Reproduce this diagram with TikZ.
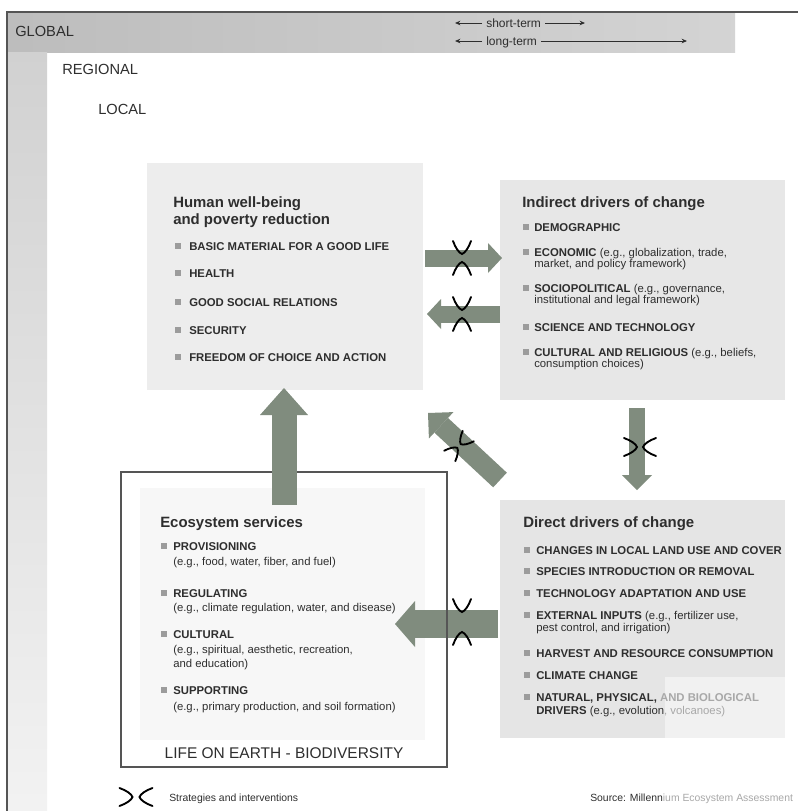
\documentclass[tikz,border=0pt]{standalone}
\usepackage{fontspec}
\setmainfont{Liberation Sans}
\usetikzlibrary{arrows.meta}
\definecolor{txt}{HTML}{2E2E2E}
\definecolor{bul}{HTML}{9C9C9C}
\definecolor{arr}{RGB}{128,140,126}
\definecolor{boxA}{HTML}{EDEDED}
\definecolor{boxB}{HTML}{E7E7E7}
\definecolor{boxC}{HTML}{E5E5E5}
\definecolor{boxCl}{HTML}{F1F1F1}
\definecolor{frameC}{HTML}{555555}
\definecolor{faint}{HTML}{A8A8A8}
\tikzset{
 ttl/.style={anchor=west, inner sep=0pt, text=txt, font=\fontsize{11.2}{13}\selectfont\bfseries, text height=0.72em, text depth=0pt},
 itm/.style={anchor=west, inner sep=0pt, text=txt, font=\fontsize{8.5}{10}\selectfont, text height=0.72em, text depth=0pt},
 hdr/.style={anchor=west, inner sep=0pt, text=txt, font=\fontsize{11}{13}\selectfont, text height=0.72em, text depth=0pt},
 smalltxt/.style={anchor=west, inner sep=0pt, text=txt, font=\fontsize{9}{10}\selectfont, text height=0.72em, text depth=0pt},
 legtxt/.style={anchor=west, inner sep=0pt, text=txt, font=\fontsize{7.8}{9}\selectfont, text height=0.72em, text depth=0pt},
 bullet/.style={fill=bul, minimum size=3.9pt, inner sep=0pt},
 markpen/.style={draw=black, line width=1.4pt, line cap=round},
 thinarr/.style={draw=txt, line width=0.7pt, -{Stealth[length=4pt,width=3.4pt]}},
 blk/.style n args={3}{draw=arr, line width=#1, -{Triangle[width=#2,length=#3,line width=0pt 0]}},
 pics/strat/.style={code={
   \draw[markpen] ({-#1-13},-9) .. controls ({-#1-6},-6.5) and ({-#1-1},-3) .. (-#1,0) .. controls ({-#1-1},3) and ({-#1-6},6.5) .. ({-#1-13},9);
   \draw[markpen] ({#1+13},-9) .. controls ({#1+6},-6.5) and ({#1+1},-3) .. (#1,0) .. controls ({#1+1},3) and ({#1+6},6.5) .. ({#1+13},9);
 }},
 pics/strat/.default=4
}
\newcommand\bitem[5]{\node[bullet] (#1b) at (#2,#4) {}; \node[itm] (#1) at (#3,#4) {#5};}
\begin{document}
\begin{tikzpicture}[x=0.75pt,y=-0.75pt]
\useasboundingbox (0,0) rectangle (798,811);
\fill[white] (0,0) rectangle (798,811);
% scale bands
\shade[left color=black!26, right color=black!17] (7,13) rectangle (735,52);
\shade[top color=black!18, bottom color=black!5] (7,52) rectangle (47,811);
\draw[frameC, line width=1.3pt] (798,12) -- (7,12) -- (7,811);
\node[hdr] (glob) at (15,32) {GLOBAL};
\node[hdr] (reg) at (62,70) {REGIONAL};
\node[hdr] (loc) at (98,110) {LOCAL};
\node[smalltxt, inner xsep=3pt] (st) at (482,23) {short-term};
\node[smalltxt, inner xsep=3pt] (lt) at (482,41) {long-term};
\coordinate (stL) at (455,23); \coordinate (stR) at (585,23);
\coordinate (ltL) at (455,41); \coordinate (ltR) at (687,41);
\draw[thinarr] (st.west) -- (stL);
\draw[thinarr] (st.east) -- (stR);
\draw[thinarr] (lt.west) -- (ltL);
\draw[thinarr] (lt.east) -- (ltR);
% boxes
\fill[boxA] (147,163) rectangle (423,390);
\fill[boxB] (500,180) rectangle (785,400);
\fill[boxC] (500,500) rectangle (785,738);
\fill[boxCl] (665,677) rectangle (785,738);
\fill[black!3] (140,488) rectangle (425,740);
% human well-being
\node[ttl] (ht1) at (173,203) {Human well-being};
\node[ttl] (ht2) at (173,220) {and poverty reduction};
\bitem{h1}{178}{189}{246}{\textbf{BASIC MATERIAL FOR A GOOD LIFE}}
\bitem{h2}{178}{189}{273}{\textbf{HEALTH}}
\bitem{h3}{178}{189}{302}{\textbf{GOOD SOCIAL RELATIONS}}
\bitem{h4}{178}{189}{330}{\textbf{SECURITY}}
\bitem{h5}{178}{189}{357}{\textbf{FREEDOM OF CHOICE AND ACTION}}
% indirect drivers
\node[ttl] (it) at (522,203) {Indirect drivers of change};
\bitem{i1}{526}{534}{227}{\textbf{DEMOGRAPHIC}}
\bitem{i2}{526}{534}{252}{\textbf{ECONOMIC} (e.g., globalization, trade,}
\node[itm] (i2c) at (534,263) {market, and policy framework)};
\bitem{i3}{526}{534}{288}{\textbf{SOCIOPOLITICAL} (e.g., governance,}
\node[itm] (i3c) at (534,299) {institutional and legal framework)};
\bitem{i4}{526}{534}{327}{\textbf{SCIENCE AND TECHNOLOGY}}
\bitem{i5}{526}{534}{352}{\textbf{CULTURAL AND RELIGIOUS} (e.g., beliefs,}
\node[itm] (i5c) at (534,363) {consumption choices)};
% direct drivers
\node[ttl] (dt) at (523,523) {Direct drivers of change};
\bitem{d1}{527}{536}{550}{\textbf{CHANGES IN LOCAL LAND USE AND COVER}}
\bitem{d2}{527}{536}{571}{\textbf{SPECIES INTRODUCTION OR REMOVAL}}
\bitem{d3}{527}{536}{593}{\textbf{TECHNOLOGY ADAPTATION AND USE}}
\bitem{d4}{527}{536}{615}{\textbf{EXTERNAL INPUTS} (e.g., fertilizer use,}
\node[itm] (d4c) at (536,627) {pest control, and irrigation)};
\bitem{d5}{527}{536}{653}{\textbf{HARVEST AND RESOURCE CONSUMPTION}}
\bitem{d6}{527}{536}{675}{\textbf{CLIMATE CHANGE}}
\bitem{d7}{527}{536}{697}{\textbf{NATURAL, PHYSICAL, \textcolor{faint}{AND BIOLOGICAL}}}
\node[itm] (d7c) at (536,710) {\textbf{DRIVERS} (e.g., evolution\textcolor{faint}{, volcanoes)}};
% ecosystem services
\node[ttl] (et) at (160,523) {Ecosystem services};
\bitem{e1}{164}{173}{546}{\textbf{PROVISIONING}}
\node[itm] (e1c) at (173,561) {(e.g., food, water, fiber, and fuel)};
\bitem{e2}{164}{173}{593}{\textbf{REGULATING}}
\node[itm] (e2c) at (173,607) {(e.g., climate regulation, water, and disease)};
\bitem{e3}{164}{173}{634}{\textbf{CULTURAL}}
\node[itm] (e3c) at (173,649) {(e.g., spiritual, aesthetic, recreation,};
\node[itm] (e3d) at (173,663) {and education)};
\bitem{e4}{164}{173}{690}{\textbf{SUPPORTING}}
\node[itm] (e4c) at (173,706) {(e.g., primary production, and soil formation)};
\node[text=txt, inner sep=0pt, font=\fontsize{11.6}{13}\selectfont] (life) at (284,753) {LIFE ON EARTH - BIODIVERSITY};
% arrow end points
\coordinate (a1s) at (425,258); \coordinate (a1e) at (502,258);
\coordinate (a2s) at (500,314); \coordinate (a2e) at (427,314);
\coordinate (a3s) at (637,408); \coordinate (a3e) at (637,490);
\coordinate (a4s) at (500,480); \coordinate (a4e) at (428,413);
\coordinate (a5s) at (284,505); \coordinate (a5e) at (284,388);
\coordinate (a6s) at (498,624); \coordinate (a6e) at (395,624);
\draw[blk={12.75pt}{22.5pt}{10.5pt}] (a1s) -- (a1e);
\draw[blk={12.75pt}{22.5pt}{10.5pt}] (a2s) -- (a2e);
\draw[blk={12pt}{22.5pt}{11.25pt}] (a3s) -- (a3e);
\draw[blk={15pt}{27pt}{13.5pt}] (a4s) -- (a4e);
\draw[blk={21pt}{34.5pt}{15pt}] (a6s) -- (a6e);
% ecosystem box frame
\draw[frameC, line width=1.5pt] (121,472) rectangle (447,767);
\draw[blk={18.75pt}{36pt}{20.25pt}] (a5s) -- (a5e);
% strategies and interventions marks
\pic[rotate=90] at (462,258) {strat=4};
\pic[rotate=90] at (462,314) {strat=4};
\pic at (640,447) {strat=3};
\pic[rotate=47, scale=0.85] at (459,446) {strat=3};
\pic[rotate=90] at (462,622) {strat=10};
% legend and source
\pic at (136,797) {strat=3.5};
\node[legtxt] (leg) at (169,797) {Strategies and interventions};
\node[legtxt] (src) at (590,797) {Source: Millenn\textcolor{faint}{ium Ecosystem Assessment}};
\end{tikzpicture}
\end{document}
